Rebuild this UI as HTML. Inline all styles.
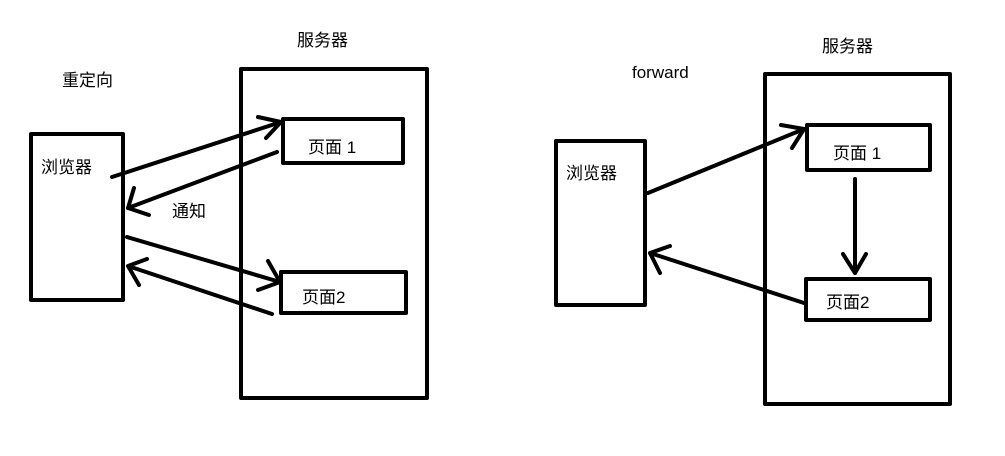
<!DOCTYPE html>
<html><head><meta charset="utf-8"><style>
body{margin:0;background:#fff;}
svg text{font-family:"Liberation Sans","Noto Sans CJK SC",sans-serif;font-size:17px;fill:#000;}
</style></head><body>
<svg width="1005" height="451" xmlns="http://www.w3.org/2000/svg">
<g fill="none" stroke="#000" stroke-width="4" stroke-linecap="round" stroke-linejoin="round">
<rect x="31" y="134" width="92" height="166"/>
<rect x="241" y="69" width="186" height="329"/>
<rect x="283" y="119" width="120" height="44"/>
<rect x="281" y="272" width="125" height="41"/>
<path d="M112 177 L281 122 M258 117 L281 122 L266 138"/>
<path d="M277 152 L128 208 M134 188 L128 208 L149 215"/>
<path d="M127 237 L280 282 M268 261 L280 282 L258 290"/>
<path d="M272 314 L128 266 M139 285 L128 266 L147 259"/>
<rect x="556" y="141" width="89" height="164"/>
<rect x="765" y="74" width="185" height="330"/>
<rect x="807" y="125" width="123" height="45"/>
<rect x="806" y="279" width="124" height="41"/>
<path d="M648 193 L804 129 M781 125 L804 129 L792 148"/>
<path d="M855 179 L855 273 M843 254 L855 273 L866 254"/>
<path d="M804 303 L650 253 M660 273 L650 253 L670 246"/>
</g>
<text x="62" y="86">重定向</text>
<text x="297" y="46">服务器</text>
<text x="41" y="173">浏览器</text>
<text x="172" y="217">通知</text>
<text x="308" y="153">页面 1</text>
<text x="302" y="303">页面2</text>
<text x="632" y="78">forward</text>
<text x="822" y="52">服务器</text>
<text x="566" y="179">浏览器</text>
<text x="833" y="159">页面 1</text>
<text x="826" y="308">页面2</text>
</svg>
</body></html>
